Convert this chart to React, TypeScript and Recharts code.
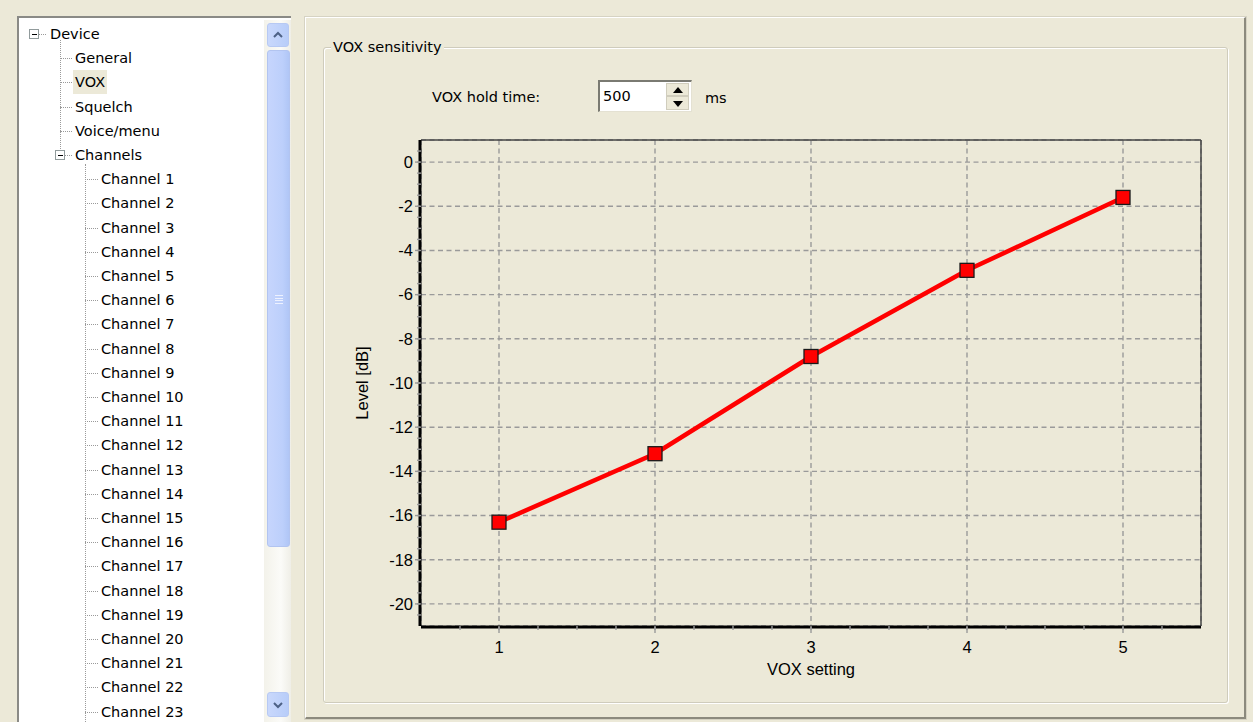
import { LineChart, Line, XAxis, YAxis, CartesianGrid } from "recharts";

// VOX sensitivity curve
const voxSettings = [1, 2, 3, 4, 5];
const levelDb = [-16.3, -13.2, -8.8, -4.9, -1.6];

const xTicks = [1, 2, 3, 4, 5];
const xMinorTicks = [0.75, 1, 1.25, 1.5, 1.75, 2, 2.25, 2.5, 2.75, 3, 3.25, 3.5, 3.75, 4, 4.25, 4.5, 4.75, 5, 5.25];
const yTicks = [0, -2, -4, -6, -8, -10, -12, -14, -16, -18, -20];
const yMinorTicks = [
  0.5, 0, -0.5, -1, -1.5, -2, -2.5, -3, -3.5, -4, -4.5, -5, -5.5, -6, -6.5, -7, -7.5, -8, -8.5, -9, -9.5, -10,
  -10.5, -11, -11.5, -12, -12.5, -13, -13.5, -14, -14.5, -15, -15.5, -16, -16.5, -17, -17.5, -18, -18.5, -19,
  -19.5, -20, -20.5,
];

const treeTop = ["General", "VOX", "Squelch", "Voice/menu"];
const channelNames = Array.from({ length: 23 }, (_, i) => `Channel ${i + 1}`);

const data = voxSettings.map((s, i) => ({ setting: s, level: levelDb[i] }));

const BG = "#ECE9D8";
const UI_FONT = "'DejaVu Sans', sans-serif";
const CHART_FONT = "'Liberation Sans', Arial, sans-serif";
const ROW = 24.2;

const SquareDot = (props: any) => {
  const { cx, cy, index } = props;
  if (cx == null || cy == null) return null;
  return <rect key={index} x={cx - 7} y={cy - 7} width={14} height={14} fill="#FF0000" stroke="#1a1a1a" strokeWidth={1.3} />;
};

function Tree() {
  const rowY = (i: number) => 32 + i * ROW; // centre y of row i (page coords)
  const dotted = "1px dotted #9a9a9a";
  const box = (x: number, y: number) => (
    <div style={{ position: "absolute", left: x, top: y, width: 8, height: 8, border: "1px solid #919b9c", background: "#fff" }}>
      <div style={{ position: "absolute", left: 2, top: 4, width: 5, height: 1, background: "#000" }} />
    </div>
  );
  const label = (text: string, x: number, i: number, selected = false) => (
    <div
      key={text}
      style={{
        position: "absolute", left: x - 2, top: rowY(i) - 12, height: 24, lineHeight: "24px", padding: "0 2px",
        background: selected ? BG : "transparent", fontSize: 14.5, color: "#000", whiteSpace: "nowrap",
      }}
    >
      {text}
    </div>
  );
  return (
    <div style={{ position: "absolute", left: 17, top: 16, width: 274, height: 720, background: "#fff", borderTop: "2px solid #8a8a86", borderLeft: "2px solid #8a8a86", boxSizing: "border-box", overflow: "hidden" }}>
      <div style={{ position: "absolute", left: -17, top: -16, width: 300, height: 760 }}>
        {box(27, 27)}
        <div style={{ position: "absolute", left: 37, top: 32, width: 7, borderTop: dotted }} />
        {label("Device", 48, 0)}
        <div style={{ position: "absolute", left: 58, top: 38, height: 111, borderLeft: dotted }} />
        {treeTop.map((t, i) => (
          <div key={t}>
            <div style={{ position: "absolute", left: 58, top: rowY(i + 1), width: 12, borderTop: dotted }} />
            {label(t, 73, i + 1, t === "VOX")}
          </div>
        ))}
        {box(53, 148)}
        <div style={{ position: "absolute", left: 63, top: rowY(5), width: 7, borderTop: dotted }} />
        {label("Channels", 73, 5)}
        <div style={{ position: "absolute", left: 83, top: 162, height: 600, borderLeft: dotted }} />
        {channelNames.map((c, i) => (
          <div key={c}>
            <div style={{ position: "absolute", left: 83, top: rowY(i + 6), width: 13, borderTop: dotted }} />
            {label(c, 99, i + 6)}
          </div>
        ))}
        {/* scrollbar */}
        <div style={{ position: "absolute", left: 262, top: 18, width: 28, height: 720, background: "linear-gradient(90deg,#f3f2ea,#fbfbf8 60%,#eeede5)" }} />
        <div style={{ position: "absolute", left: 265, top: 21, width: 22, height: 24, borderRadius: 3, border: "1px solid #b7c9f3", background: "linear-gradient(90deg,#c9d8fc,#b8cdf9)", textAlign: "center", boxSizing: "border-box" }}>
          <svg width="10" height="8" style={{ marginTop: 7 }}><path d="M1 6 L5 2 L9 6" stroke="#4d6185" strokeWidth="2" fill="none" /></svg>
        </div>
        <div style={{ position: "absolute", left: 265, top: 48, width: 23, height: 497, borderRadius: 3, border: "1px solid #b2c4f0", background: "linear-gradient(90deg,#c6d5fd,#bccffb 70%,#b0c6f6)", boxSizing: "border-box" }}>
          {[0, 1, 2, 3].map((k) => (
            <div key={k} style={{ position: "absolute", left: 7, top: 244 + k * 2.5, width: 8, height: 1, background: "#eef2ff" }} />
          ))}
        </div>
        <div style={{ position: "absolute", left: 265, top: 690, width: 22, height: 25, borderRadius: 3, border: "1px solid #b7c9f3", background: "linear-gradient(90deg,#c9d8fc,#b8cdf9)", textAlign: "center", boxSizing: "border-box" }}>
          <svg width="10" height="8" style={{ marginTop: 8 }}><path d="M1 2 L5 6 L9 2" stroke="#4d6185" strokeWidth="2" fill="none" /></svg>
        </div>
      </div>
    </div>
  );
}

export default function App() {
  return (
    <div style={{ position: "fixed", left: 0, top: 0, width: 1253, height: 722, background: BG, fontFamily: UI_FONT, overflow: "hidden" }}>
      <Tree />

      {/* right property page frame */}
      <div style={{ position: "absolute", left: 305, top: 17, width: 941, height: 702, borderTop: "1px solid #fff", borderLeft: "1px solid #fff", borderRight: "2px solid #8c8a7e", borderBottom: "2px solid #8c8a7e", boxSizing: "border-box", boxShadow: "0 0 0 1px #d6d3c3" }} />

      {/* group box */}
      <div style={{ position: "absolute", left: 323, top: 47, width: 905, height: 656, border: "1px solid #cfccbc", borderRadius: 3, boxShadow: "inset 1px 1px 0 #fff, 1px 1px 0 #fff", boxSizing: "border-box" }} />
      <div style={{ position: "absolute", left: 331, top: 37, padding: "0 2px", background: BG, fontSize: 14.5, lineHeight: "20px", color: "#000" }}>VOX sensitivity</div>

      {/* hold time */}
      <div style={{ position: "absolute", left: 432, top: 87, fontSize: 14.5, lineHeight: "20px", color: "#000" }}>VOX hold time:</div>
      <div style={{ position: "absolute", left: 598, top: 80, width: 94, height: 32, background: "#fff", borderTop: "2px solid #7a7a72", borderLeft: "2px solid #7a7a72", borderRight: "1px solid #e4e1d2", borderBottom: "1px solid #e4e1d2", boxSizing: "border-box" }}>
        <div style={{ position: "absolute", left: 3, top: 4, fontSize: 14.5, lineHeight: "20px", color: "#000" }}>500</div>
        <div style={{ position: "absolute", left: 66, top: 1, width: 23, height: 13, background: "#ece9d8", border: "1px solid #d0cdbd", boxSizing: "border-box" }}>
          <svg width="10" height="6" style={{ display: "block", margin: "3px auto 0" }}><path d="M0 6 L5 0 L10 6 Z" fill="#000" /></svg>
        </div>
        <div style={{ position: "absolute", left: 66, top: 14, width: 23, height: 14, background: "#ece9d8", border: "1px solid #d0cdbd", boxSizing: "border-box" }}>
          <svg width="10" height="6" style={{ display: "block", margin: "4px auto 0" }}><path d="M0 0 L10 0 L5 6 Z" fill="#000" /></svg>
        </div>
      </div>
      <div style={{ position: "absolute", left: 705, top: 88, fontSize: 14.5, lineHeight: "20px", color: "#000" }}>ms</div>

      {/* chart */}
      <div style={{ position: "absolute", left: 330, top: 120 }}>
        <LineChart
          width={900}
          height={580}
          data={data}
          margin={{ top: 19, right: 28, bottom: 24, left: 31 }}
          style={{ fontFamily: CHART_FONT }}
        >
          <CartesianGrid xAxisId="main" yAxisId="main" stroke="#9a9a9a" strokeWidth={1.4} strokeDasharray="5 3.5" />
          <XAxis
            xAxisId="main"
            dataKey="setting"
            type="number"
            domain={[0.5, 5.5]}
            allowDataOverflow
            ticks={xTicks}
            interval={0}
            height={49}
            axisLine={{ stroke: "#000", strokeWidth: 3 }}
            tickSize={6}
            tickMargin={8}
            tickLine={{ stroke: "#9a9a9a", strokeWidth: 1.4 }}
            tick={{ fill: "#000", fontSize: 16.5 }}
            label={{ value: "VOX setting", position: "insideBottom", offset: 1, fill: "#000", fontSize: 16.5 }}
          />
          <XAxis
            dataKey="setting"
            type="number"
            domain={[0.5, 5.5]}
            allowDataOverflow
            ticks={xMinorTicks}
            interval={0}
            height={1}
            axisLine={false}
            tickSize={4}
            tickLine={{ stroke: "#9a9a9a", strokeWidth: 1.4 }}
            tickFormatter={() => ""}
          />
          <XAxis
            xAxisId="top"
            orientation="top"
            dataKey="setting"
            type="number"
            domain={[0.5, 5.5]}
            height={1}
            tick={false}
            tickLine={false}
            axisLine={{ stroke: "#444", strokeWidth: 1.5 }}
          />
          <YAxis
            yAxisId="main"
            type="number"
            domain={[-21, 1]}
            allowDataOverflow
            ticks={yTicks}
            interval={0}
            width={59}
            axisLine={{ stroke: "#000", strokeWidth: 3 }}
            tickSize={5}
            tickMargin={2}
            tickLine={{ stroke: "#9a9a9a", strokeWidth: 1.4 }}
            tick={{ fill: "#000", fontSize: 16.5 }}
            label={{ value: "Level [dB]", angle: -90, position: "insideLeft", offset: 1, fill: "#000", fontSize: 16.5, style: { textAnchor: "middle" } }}
          />
          <YAxis
            type="number"
            domain={[-21, 1]}
            allowDataOverflow
            ticks={yMinorTicks}
            interval={0}
            width={1}
            axisLine={false}
            tickSize={4}
            tickLine={{ stroke: "#9a9a9a", strokeWidth: 1.4 }}
            tickFormatter={() => ""}
          />
          <YAxis
            yAxisId="right"
            orientation="right"
            type="number"
            domain={[-21, 1]}
            width={1}
            tick={false}
            tickLine={false}
            axisLine={{ stroke: "#444", strokeWidth: 1.5 }}
          />
          <Line
            xAxisId="main"
            yAxisId="main"
            type="linear"
            dataKey="level"
            stroke="#FF0000"
            strokeWidth={4.5}
            dot={<SquareDot />}
            activeDot={false}
            isAnimationActive={false}
          />
        </LineChart>
      </div>
    </div>
  );
}
